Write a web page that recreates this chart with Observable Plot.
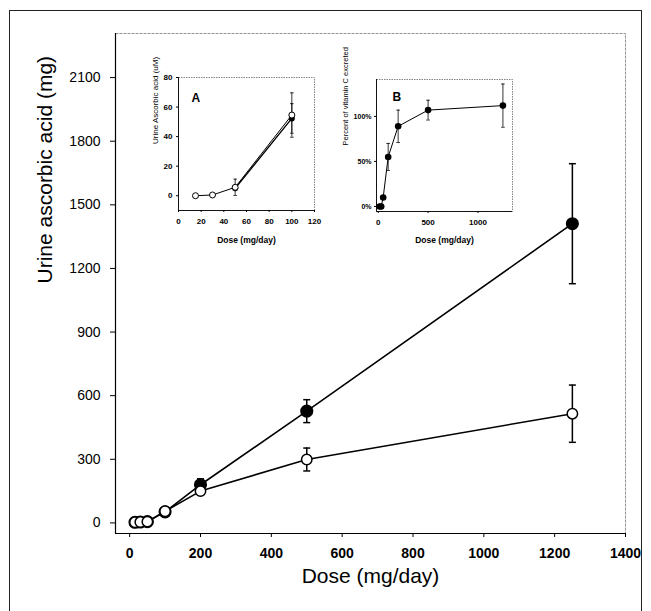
<!DOCTYPE html>
<html>
<head>
<meta charset="utf-8">
<script src="https://cdn.jsdelivr.net/npm/d3@7"></script>
<script src="https://cdn.jsdelivr.net/npm/@observablehq/plot@0.6"></script>
<style>
  html, body { margin: 0; padding: 0; background: #fff; }
  #wrap { position: relative; width: 651px; height: 611px; overflow: hidden; background: #fff; }
  #border { position: absolute; left: 9px; top: 10px; width: 633px; height: 700px; border: 1.5px solid #222; box-sizing: border-box; }
  .layer { position: absolute; }
</style>
</head>
<body>
<div id="wrap"><div id="border"></div></div>
<script>
// ---- Main chart data ----
const doses = [15, 30, 50, 100, 200, 500, 1250];
const openMg = [3, 4, 6, 55, 150, 299, 515];
const openErr = [0, 0, 0, 0, 12, 54, 135];
const filledDoses = [15, 30, 50, 100, 200, 500, 1250];
const filledMg = [3, 4, 6, 52, 180, 527, 1411];
const filledErr = [0, 0, 0, 0, 28, 54, 283];
const mainXTicks = [0, 200, 400, 600, 800, 1000, 1200, 1400];
const mainYTicks = [0, 300, 600, 900, 1200, 1500, 1800, 2100];
const mainXDomain = [-40, 1400];
const mainYDomain = [-50, 2308];

// ---- Inset A data ----
const insetADoses = [15, 30, 50, 100];
const insetAOpen = [0, 0.5, 5.7, 54.6];
const insetAOpenErr = [0, 0, 5.5, 15];
const insetAFilledDoses = [50, 100];
const insetAFilled = [5, 52.3];
const insetAFilledErr = [0, 10];
const insetAXTicks = [0, 20, 40, 60, 80, 100, 120];
const insetAYTicks = [0, 20, 40, 60, 80];

// ---- Inset B data ----
const insetBDoses = [15, 30, 50, 100, 200, 500, 1250];
const insetBPct = [0, 0, 10, 55, 89, 107, 112];
const insetBErr = [0, 0, 0, 15, 18, 11, 24];
const insetBXTicks = [0, 500, 1000];
const insetBYTicks = [0, 50, 100];

const font = "'Liberation Sans', Arial, sans-serif";
const cap = { draw(ctx, size) { const r = Math.sqrt(size / Math.PI); ctx.moveTo(-r, 0); ctx.lineTo(r, 0); } };
const plain = d => String(d);

function rows(xs, ys, es) { return xs.map((x, i) => ({x, y: ys[i], e: es[i], lo: ys[i] - es[i], hi: ys[i] + es[i]})); }

const openRows = rows(doses, openMg, openErr);
const filledRows = rows(filledDoses, filledMg, filledErr);

function errMarks(data, capR, sw) {
  const d = data.filter(r => r.e > 0);
  return [
    Plot.ruleX(d, {x: "x", y1: "lo", y2: "hi", stroke: "black", strokeWidth: sw}),
    Plot.dot(d, {x: "x", y: "lo", symbol: cap, r: capR, stroke: "black", strokeWidth: sw}),
    Plot.dot(d, {x: "x", y: "hi", symbol: cap, r: capR, stroke: "black", strokeWidth: sw})
  ];
}

const wrap = document.getElementById("wrap");
function place(svg, left, top) {
  svg.classList.add("layer");
  svg.style.left = left + "px";
  svg.style.top = top + "px";
  wrap.appendChild(svg);
}

// ---- Main plot ----
const main = Plot.plot({
  width: 651, height: 611,
  marginLeft: 115, marginRight: 26, marginTop: 33, marginBottom: 78,
  style: {fontFamily: font, background: "transparent", overflow: "visible", color: "black"},
  x: {domain: mainXDomain},
  y: {domain: mainYDomain},
  marks: [
    Plot.frame({stroke: "#777", strokeWidth: 0.8, strokeDasharray: "3,1"}),
    Plot.ruleX([mainXDomain[0]], {stroke: "black", strokeWidth: 1.2}),
    Plot.ruleY([mainYDomain[0]], {stroke: "black", strokeWidth: 1.2}),
    Plot.axisX(mainXTicks, {tickSize: 4, tickPadding: 11, fontSize: 14, fontWeight: "bold", tickFormat: plain, label: null}),
    Plot.axisY(mainYTicks, {tickSize: 5, tickPadding: 10, fontSize: 14, tickFormat: plain, label: null}),
    Plot.text(["Dose (mg/day)"], {frameAnchor: "bottom", dy: 49, fontSize: 21, fill: "black"}),
    Plot.text(["Urine ascorbic acid (mg)"], {frameAnchor: "left", dx: -70, rotate: -90, fontSize: 21, fill: "black"}),
    Plot.line(filledRows, {x: "x", y: "y", stroke: "black", strokeWidth: 1.6}),
    Plot.line(openRows, {x: "x", y: "y", stroke: "black", strokeWidth: 1.6}),
    ...errMarks(filledRows, 3.5, 1.5),
    ...errMarks(openRows, 3.5, 1.5),
    Plot.dot(filledRows, {x: "x", y: "y", r: 5.8, fill: "black", stroke: "black"}),
    Plot.dot(openRows, {x: "x", y: "y", r: 5.2, fill: "white", stroke: "black", strokeWidth: 1.5})
  ]
});
place(main, 0, 0);

// ---- Inset A ----
const aOpen = rows(insetADoses, insetAOpen, insetAOpenErr);
const aFilled = rows(insetAFilledDoses, insetAFilled, insetAFilledErr);
const insetA = Plot.plot({
  width: 185, height: 190,
  marginLeft: 38, marginRight: 11, marginTop: 12, marginBottom: 45,
  style: {fontFamily: font, background: "transparent", overflow: "visible", color: "black"},
  x: {domain: [0, 120]},
  y: {domain: [-10, 80]},
  marks: [
    Plot.frame({stroke: "#666", strokeWidth: 0.8, strokeDasharray: "1.5,1"}),
    Plot.ruleX([0], {stroke: "black", strokeWidth: 0.9}),
    Plot.ruleY([-10], {stroke: "black", strokeWidth: 0.9}),
    Plot.axisX(insetAXTicks, {tickSize: 2, tickPadding: 6, fontSize: 8, fontWeight: "bold", tickFormat: plain, label: null}),
    Plot.axisY(insetAYTicks, {tickSize: 2, tickPadding: 4, fontSize: 8, fontWeight: "bold", tickFormat: plain, label: null}),
    Plot.text(["Dose (mg/day)"], {frameAnchor: "bottom", dy: 32, fontSize: 8.5, fontWeight: "bold", fill: "black"}),
    Plot.text(["Urine Ascorbic acid (uM)"], {frameAnchor: "left", dx: -23, rotate: -90, fontSize: 8, fill: "black"}),
    Plot.text(["A"], {frameAnchor: "top-left", dx: 13, dy: 16, fontSize: 12, fontWeight: "bold", fill: "black"}),
    Plot.line(aOpen, {x: "x", y: "y", stroke: "black", strokeWidth: 1}),
    Plot.line(aFilled, {x: "x", y: "y", stroke: "black", strokeWidth: 1.3}),
    ...errMarks(aOpen, 1.8, 0.8),
    ...errMarks(aFilled, 1.8, 0.8),
    Plot.dot(aFilled, {x: "x", y: "y", r: 3, fill: "black"}),
    Plot.dot(aOpen, {x: "x", y: "y", r: 3, fill: "white", stroke: "black", strokeWidth: 1})
  ]
});
place(insetA, 140, 65);

// ---- Inset B ----
const bRows = rows(insetBDoses, insetBPct, insetBErr);
const insetB = Plot.plot({
  width: 192, height: 190,
  marginLeft: 46, marginRight: 10, marginTop: 14, marginBottom: 44,
  style: {fontFamily: font, background: "transparent", overflow: "visible", color: "black"},
  x: {domain: [-17, 1346]},
  y: {domain: [-5.6, 141]},
  marks: [
    Plot.frame({stroke: "#666", strokeWidth: 0.8, strokeDasharray: "1.5,1"}),
    Plot.ruleX([-17], {stroke: "black", strokeWidth: 0.9}),
    Plot.ruleY([-5.6], {stroke: "black", strokeWidth: 0.9}),
    Plot.axisX(insetBXTicks, {tickSize: 2, tickPadding: 6, fontSize: 8, fontWeight: "bold", tickFormat: plain, label: null}),
    Plot.axisY(insetBYTicks, {tickSize: 2, tickPadding: 3, fontSize: 7, fontWeight: "bold", tickFormat: d => d + "%", label: null}),
    Plot.text(["Dose (mg/day)"], {frameAnchor: "bottom", dy: 31, fontSize: 8.5, fontWeight: "bold", fill: "black"}),
    Plot.text(["Percent of vitamin C excreted"], {frameAnchor: "left", dx: -31, rotate: -90, fontSize: 7.5, fill: "black"}),
    Plot.text(["B"], {frameAnchor: "top-left", dx: 16, dy: 13, fontSize: 12, fontWeight: "bold", fill: "black"}),
    Plot.line(bRows, {x: "x", y: "y", stroke: "black", strokeWidth: 1}),
    ...errMarks(bRows, 1.8, 0.8),
    Plot.dot(bRows, {x: "x", y: "y", r: 3.3, fill: "black"})
  ]
});
place(insetB, 330, 65);
</script>
</body>
</html>
